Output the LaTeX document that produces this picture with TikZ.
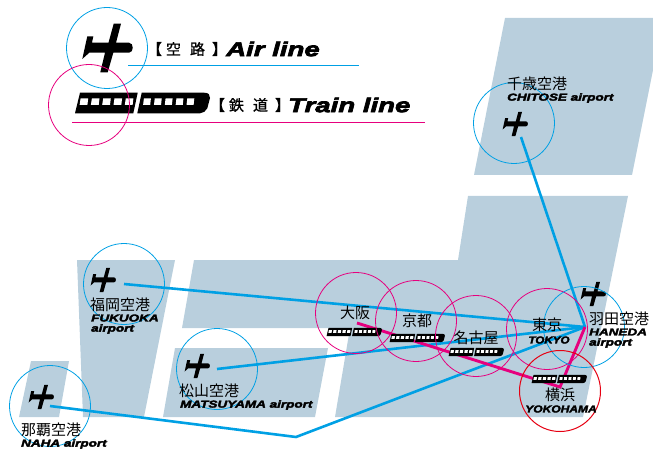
\documentclass[tikz,border=0pt]{standalone}
\usepackage{fontspec}
\setmainfont{Liberation Sans}
\newfontfamily\jp{Noto Sans CJK JP}
\newfontfamily\jpm[FakeBold=1]{Noto Sans CJK JP}
\newfontfamily\lat[FakeStretch=1.35,FakeBold=3.5]{Liberation Sans Bold Italic}
\newfontfamily\latbig[FakeStretch=1.38,FakeBold=3.5]{Liberation Sans Bold Italic}
\definecolor{land}{HTML}{B9CFDD}
\definecolor{airblue}{HTML}{00A0E4}
\definecolor{railpink}{HTML}{E6007E}
\definecolor{yokored}{HTML}{E60012}
\tikzset{
 landmass/.style={fill=land,draw=none},
 aircircle/.style={circle,draw=airblue,line width=.8pt,minimum size=81pt,inner sep=0pt},
 railcircle/.style={circle,draw=railpink,line width=.8pt,minimum size=81pt,inner sep=0pt},
 redcircle/.style={circle,draw=yokored,line width=1pt,minimum size=81pt,inner sep=0pt},
 airline/.style={draw=airblue,line width=2.6pt},
 railline/.style={draw=railpink,line width=2.9pt},
 jl/.style={inner sep=0pt,anchor=west,font=\jp\fontsize{15}{15}\selectfont},
 jc/.style={inner sep=0pt,anchor=center,font=\jp\fontsize{15}{15}\selectfont},
 jleg/.style={inner sep=0pt,anchor=center,font=\jpm\fontsize{15}{15}\selectfont},
 eleg/.style={inner sep=0pt,anchor=west,font=\latbig\fontsize{20}{20}\selectfont},
 el/.style={inner sep=0pt,anchor=west,font=\lat\fontsize{10}{10}\selectfont},
 ec/.style={inner sep=0pt,anchor=center,font=\lat\fontsize{10}{10}\selectfont},
 pics/plane/.style={code={
  \fill[black] (6.7,-24.3)--(14,-24.3)--(9,-5.3)--(22,-5.3)
   .. controls (27,-5.3) and (27,4.7) .. (22,4.7)--(6.3,4.7)--(0.7,24.3)--(-6.7,24.3)--(-2,4.7)--(-17.7,4.7)--(-24.7,11)--(-19.7,-11.7)--(-13.7,-11.7)--(-15,-5.3)--(1.5,-5.3)--cycle;
 }},
 pics/train/.style={code={
  \fill[black] (-67,10.3)--(-62,-10.3)--(-4.3,-10.3)--(-8.7,10.3)--cycle;
  \fill[black] (-4.7,10.3)--(-0.3,-10.3)--(62,-10.3)
   .. controls (67,-10.3) and (68,-8) .. (68,-5)--(65.3,5.3)
   .. controls (64,8) and (61,10.3) .. (58,10.3)--cycle;
  \foreach \i in {0,...,4}{
   \fill[white,shift={(-62+11.3*\i,0)}] (.6,-4.7)--(8.2,-4.7)--(7.4,2)--(-.4,2)--cycle;
   \fill[white,shift={(1.3+10.85*\i,0)}] (.6,-4.7)--(7.6,-4.7)--(6.9,2)--(-.2,2)--cycle;
  }
 }}
}
\begin{document}
\begin{tikzpicture}[x=1pt,y=-1pt]
\useasboundingbox (0,0) rectangle (653,449);
% land
\fill[landmass] (505,18)--(653,18)--(653,70)--(632,175)--(474,175)--cycle;
\fill[landmass] (468,196)--(628,196)--(583,417)--(335,417)--(350,328)--(182,328)--(194,260)--(458,260)--cycle;
\fill[landmass] (77,260)--(175,260)--(144,417)--(83,417)--cycle;
\fill[landmass] (175,348)--(328,348)--(315,417)--(163,417)--cycle;
\fill[landmass] (31,361)--(69,361)--(59,417)--(19,417)--cycle;
% connector ends
\coordinate (hub) at (585,327);
\coordinate (cts) at (521,137);
\coordinate (fuk) at (124,284);
\coordinate (mat) at (217,369);
\coordinate (nah) at (50,406);
\coordinate (bend) at (296,437);
\coordinate (osk) at (357,323);
\coordinate (yok) at (560,387);
\coordinate (la1) at (128,65);\coordinate (la2) at (359,65);
\coordinate (lt1) at (72,122);\coordinate (lt2) at (425,122);
% legend rules
\draw[draw=airblue,line width=.8pt] (la1)--(la2);
\draw[draw=railpink,line width=.8pt] (lt1)--(lt2);
% connectors
\draw[airline] (cts)--(hub);
\draw[airline] (fuk)--(hub);
\draw[airline] (mat)--(hub);
\draw[airline] (nah)--(bend)--(hub);
\draw[railline] (osk)--(yok)--(hub);
% icons
\pic at (107,48) {plane};
\pic at (142,103) {train};
\pic[scale=.5] at (515,124) {plane};
\pic[scale=.5] at (103,280) {plane};
\pic[scale=.5] at (197,366) {plane};
\pic[scale=.5] at (41,397) {plane};
\pic[scale=.5] at (593,294) {plane};
\pic[scale=.41] at (354,332) {train};
\pic[scale=.41] at (417,338) {train};
\pic[scale=.41] at (476,352) {train};
\pic[scale=.41] at (559,379) {train};
% circles
\node[aircircle] (c1) at (107,48) {};
\node[railcircle] (c2) at (89,105) {};
\node[aircircle] (c3) at (514,123) {};
\node[aircircle] (c4) at (124,284) {};
\node[aircircle] (c5) at (217,369) {};
\node[aircircle] (c6) at (50,406) {};
\node[railcircle] (c7) at (356,313) {};
\node[railcircle] (c8) at (416,321) {};
\node[railcircle] (c9) at (476,336) {};
\node[railcircle] (c10) at (547,329) {};
\node[aircircle] (c11) at (584,327) {};
\node[redcircle] (c12) at (560,391) {};
% legend text
\node[jleg] (t1) at (187,49) {【\hspace{4pt}空\hspace{9pt}路\hspace{7pt}】};
\node[eleg] (t2) at (226,49) {Air line};
\node[jleg] (t3) at (250,105) {【\hspace{4pt}鉄\hspace{9pt}道\hspace{7pt}】};
\node[eleg] (t4) at (288,105) {Train line};
% labels
\node[jl] (a1) at (507,84) {千歳空港};
\node[el] (a2) at (507,98) {CHITOSE airport};
\node[jl] (b1) at (90,305) {福岡空港};
\node[el] (b2) at (91,318) {FUKUOKA};
\node[el] (b3) at (91,329) {airport};
\node[jl] (d1) at (179,391) {松山空港};
\node[el] (d2) at (180,405) {MATSUYAMA airport};
\node[jl] (e1) at (21,430) {那覇空港};
\node[el] (e2) at (21,444) {NAHA airport};
\node[jc] (f1) at (355,313) {大阪};
\node[jc] (f2) at (417,321) {京都};
\node[jc] (f3) at (476,338) {名古屋};
\node[jc] (f4) at (547,325) {東京};
\node[ec,xscale=.86,transform shape] (f5) at (549,340) {TOKYO};
\node[jl] (g1) at (589,319) {羽田空港};
\node[el] (g2) at (589,332) {HANEDA};
\node[el] (g3) at (589,343) {airport};
\node[jc] (h1) at (560,395) {横浜};
\node[ec,xscale=.89,transform shape] (h2) at (561,409) {YOKOHAMA};
\end{tikzpicture}
\end{document}
